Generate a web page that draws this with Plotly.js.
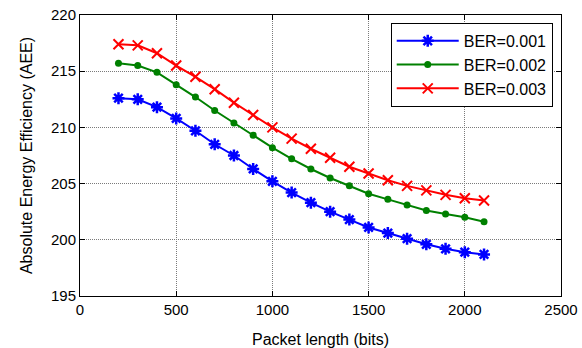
<!DOCTYPE html>
<html>
<head>
<meta charset="utf-8">
<script src="https://cdn.plot.ly/plotly-3.0.1.min.js"></script>
<style>
  html, body { margin: 0; padding: 0; background: #fff; }
  #chart { width: 582px; height: 348px; }
</style>
</head>
<body>
<div id="chart"></div>
<script>
// Packet length (bits)
const packetLength = [200, 300, 400, 500, 600, 700, 800, 900, 1000, 1100,
                      1200, 1300, 1400, 1500, 1600, 1700, 1800, 1900, 2000, 2100];

// Absolute energy efficiency for each bit error rate
const aeeBer001 = [212.6, 212.5, 211.8, 210.8, 209.7, 208.5, 207.5, 206.3, 205.2, 204.2,
                   203.3, 202.5, 201.8, 201.1, 200.6, 200.1, 199.6, 199.2, 198.9, 198.7];
const aeeBer002 = [215.7, 215.5, 214.9, 213.8, 212.7, 211.5, 210.4, 209.3, 208.2, 207.2,
                   206.3, 205.5, 204.8, 204.1, 203.6, 203.1, 202.6, 202.3, 202.0, 201.6];
const aeeBer003 = [217.4, 217.3, 216.6, 215.5, 214.5, 213.4, 212.2, 211.1, 210.0, 209.0,
                   208.1, 207.3, 206.5, 205.9, 205.3, 204.8, 204.4, 204.0, 203.7, 203.5];

const seriesNames = ['BER=0.001', 'BER=0.002', 'BER=0.003'];
const xTicks = [0, 500, 1000, 1500, 2000, 2500];
const yTicks = [195, 200, 205, 210, 215, 220];

const traces = [
  {
    x: packetLength, y: aeeBer001, name: seriesNames[0],
    type: 'scatter', mode: 'lines+markers',
    line: { color: '#0000ff', width: 2 },
    marker: { symbol: 'asterisk-open', size: 10, color: '#0000ff', line: { color: '#0000ff', width: 2.5 } }
  },
  {
    x: packetLength, y: aeeBer002, name: seriesNames[1],
    type: 'scatter', mode: 'lines+markers',
    line: { color: '#008000', width: 2 },
    marker: { symbol: 'circle', size: 7, color: '#008000' }
  },
  {
    x: packetLength, y: aeeBer003, name: seriesNames[2],
    type: 'scatter', mode: 'lines+markers',
    line: { color: '#ff0000', width: 2 },
    marker: { symbol: 'x-thin-open', size: 10, color: '#ff0000', line: { color: '#ff0000', width: 2 } }
  }
];

const axisCommon = {
  showline: true, linecolor: '#000', linewidth: 1, mirror: 'ticks',
  ticks: 'inside', ticklen: 5, tickcolor: '#000', tickwidth: 1,
  showgrid: true, gridcolor: '#7a7a7a', gridwidth: 1, griddash: '1px,1px',
  zeroline: false,
  tickfont: { family: 'Liberation Sans, Arial, sans-serif', size: 15, color: '#000' }
};

const layout = {
  width: 582, height: 348,
  margin: { l: 80, r: 21, t: 15, b: 52 },
  paper_bgcolor: '#fff', plot_bgcolor: '#fff',
  showlegend: true,
  legend: {
    x: 0.646, y: 0.972, xanchor: 'left', yanchor: 'top',
    bgcolor: '#fff', bordercolor: '#000', borderwidth: 1,
    font: { family: 'Liberation Sans, Arial, sans-serif', size: 16, color: '#000' },
    itemwidth: 62, tracegroupgap: 0
  },
  xaxis: Object.assign({}, axisCommon, {
    range: [0, 2500], tickvals: xTicks, ticktext: xTicks.map(String),
    title: { text: 'Packet length (bits)', standoff: 19,
             font: { family: 'Liberation Sans, Arial, sans-serif', size: 16, color: '#000' } }
  }),
  yaxis: Object.assign({}, axisCommon, {
    range: [195, 220], tickvals: yTicks, ticktext: yTicks.map(String),
    title: { text: 'Absolute Energy Efficiency (AEE)', standoff: 14,
             font: { family: 'Liberation Sans, Arial, sans-serif', size: 16, color: '#000' } }
  })
};

Plotly.newPlot('chart', traces, layout, { displayModeBar: false, staticPlot: true });
</script>
</body>
</html>
